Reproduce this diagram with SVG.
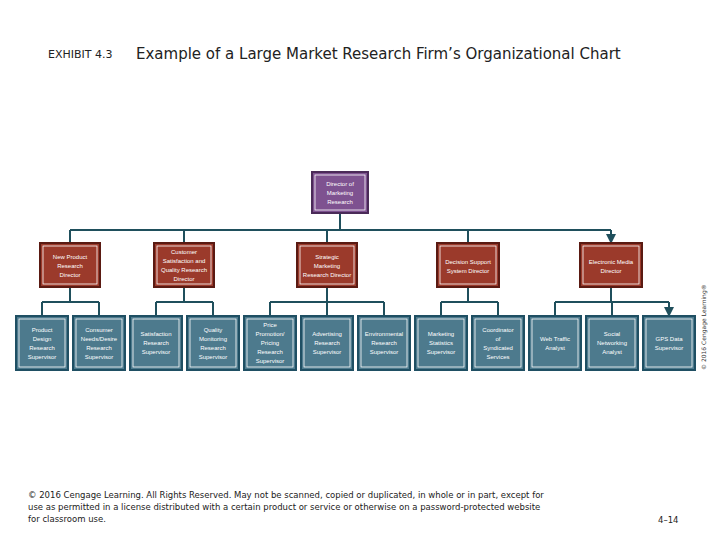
<svg xmlns="http://www.w3.org/2000/svg" width="720" height="540" viewBox="0 0 720 540">
<style>
text{font-family:"DejaVu Sans","Liberation Sans",sans-serif}
.t{fill:#fff;font-size:6px;text-anchor:middle;font-family:"Liberation Sans",sans-serif}
.p{fill:#7e5290;stroke:#4a2a58;stroke-width:2}
.r{fill:#9b3a2b;stroke:#5a1a12;stroke-width:2}
.b{fill:#4d7a8d;stroke:#1f4f63;stroke-width:2}
.in{fill:none;stroke:#fff;stroke-width:0.8}
.c path{fill:none;stroke:#1f4f5c;stroke-width:2}
</style>
<defs><marker id="a" viewBox="0 0 10 10" refX="5" refY="10" markerWidth="4" markerHeight="4" orient="auto-start-reverse" markerUnits="strokeWidth"><path d="M0,0 L10,0 L5,10 z" fill="#1f4f5c" transform="rotate(-90 5 5)"/></marker>
<marker id="m" viewBox="0 0 10 10" refX="5" refY="9" markerWidth="5" markerHeight="5" orient="0"><path d="M0,0 L10,0 L5,10 z" fill="#1f4f5c"/></marker></defs>
<rect width="720" height="540" fill="#fff"/>
<text x="48" y="58" font-size="11" fill="#222">EXHIBIT 4.3</text>
<text x="136" y="59" font-size="15" fill="#222">Example of a Large Market Research Firm’s Organizational Chart</text>
<g class="c">
<path d="M340,213 V230 M70,230 H611"/>
<path d="M70,230 V243 M184,230 V243 M327,230 V243 M468,230 V243 M611,230 V243" marker-end="url(#m)"/>
<path d="M70,287 V302 M42,302 H99 M184,287 V302 M156,302 H213 M327,287 V302 M270,302 H384 M468,287 V302 M441,302 H498 M611,287 V302 M555,302 H669"/>
<path d="M42,302 V316 M99,302 V316 M156,302 V316 M213,302 V316 M270,302 V316 M327,302 V316 M384,302 V316 M441,302 V316 M498,302 V316 M555,302 V316 M612,302 V316 M669,302 V316" marker-end="url(#m)"/>
</g>
<g id="top"><rect class="p" x="312" y="172" width="56" height="41"/><rect class="in" x="315" y="175" width="50" height="35"/><text class="t" x="340" y="186">Director of</text><text class="t" x="340" y="195">Marketing</text><text class="t" x="340" y="204">Research</text></g>
<g id="d1"><rect class="r" x="40" y="243" width="60" height="44"/><rect class="in" x="43" y="246" width="54" height="38"/><text class="t" x="70" y="259">New Product</text><text class="t" x="70" y="268">Research</text><text class="t" x="70" y="277">Director</text></g>
<g id="d2"><rect class="r" x="154" y="243" width="60" height="44"/><rect class="in" x="157" y="246" width="54" height="38"/><text class="t" x="184" y="254">Customer</text><text class="t" x="184" y="263">Satisfaction and</text><text class="t" x="184" y="272">Quality Research</text><text class="t" x="184" y="281">Director</text></g>
<g id="d3"><rect class="r" x="297" y="243" width="60" height="44"/><rect class="in" x="300" y="246" width="54" height="38"/><text class="t" x="327" y="259">Strategic</text><text class="t" x="327" y="268">Marketing</text><text class="t" x="327" y="277">Research Director</text></g>
<g id="d4"><rect class="r" x="437" y="243" width="62" height="44"/><rect class="in" x="440" y="246" width="56" height="38"/><text class="t" x="468" y="264">Decision Support</text><text class="t" x="468" y="273">System Director</text></g>
<g id="d5"><rect class="r" x="580" y="243" width="62" height="44"/><rect class="in" x="583" y="246" width="56" height="38"/><text class="t" x="611" y="264">Electronic Media</text><text class="t" x="611" y="273">Director</text></g>
<g id="s1"><rect class="b" x="16" y="316" width="52" height="54"/><rect class="in" x="19" y="319" width="46" height="48"/><text class="t" x="42" y="332">Product</text><text class="t" x="42" y="341">Design</text><text class="t" x="42" y="350">Research</text><text class="t" x="42" y="359">Supervisor</text></g>
<g id="s2"><rect class="b" x="73" y="316" width="52" height="54"/><rect class="in" x="76" y="319" width="46" height="48"/><text class="t" x="99" y="332">Consumer</text><text class="t" x="99" y="341">Needs/Desire</text><text class="t" x="99" y="350">Research</text><text class="t" x="99" y="359">Supervisor</text></g>
<g id="s3"><rect class="b" x="130" y="316" width="52" height="54"/><rect class="in" x="133" y="319" width="46" height="48"/><text class="t" x="156" y="336">Satisfaction</text><text class="t" x="156" y="345">Research</text><text class="t" x="156" y="354">Supervisor</text></g>
<g id="s4"><rect class="b" x="187" y="316" width="52" height="54"/><rect class="in" x="190" y="319" width="46" height="48"/><text class="t" x="213" y="332">Quality</text><text class="t" x="213" y="341">Monitoring</text><text class="t" x="213" y="350">Research</text><text class="t" x="213" y="359">Supervisor</text></g>
<g id="s5"><rect class="b" x="244" y="316" width="52" height="54"/><rect class="in" x="247" y="319" width="46" height="48"/><text class="t" x="270" y="327">Price</text><text class="t" x="270" y="336">Promotion/</text><text class="t" x="270" y="345">Pricing</text><text class="t" x="270" y="354">Research</text><text class="t" x="270" y="363">Supervisor</text></g>
<g id="s6"><rect class="b" x="301" y="316" width="52" height="54"/><rect class="in" x="304" y="319" width="46" height="48"/><text class="t" x="327" y="336">Advertising</text><text class="t" x="327" y="345">Research</text><text class="t" x="327" y="354">Supervisor</text></g>
<g id="s7"><rect class="b" x="358" y="316" width="52" height="54"/><rect class="in" x="361" y="319" width="46" height="48"/><text class="t" x="384" y="336">Environmental</text><text class="t" x="384" y="345">Research</text><text class="t" x="384" y="354">Supervisor</text></g>
<g id="s8"><rect class="b" x="415" y="316" width="52" height="54"/><rect class="in" x="418" y="319" width="46" height="48"/><text class="t" x="441" y="336">Marketing</text><text class="t" x="441" y="345">Statistics</text><text class="t" x="441" y="354">Supervisor</text></g>
<g id="s9"><rect class="b" x="472" y="316" width="52" height="54"/><rect class="in" x="475" y="319" width="46" height="48"/><text class="t" x="498" y="332">Coordinator</text><text class="t" x="498" y="341">of</text><text class="t" x="498" y="350">Syndicated</text><text class="t" x="498" y="359">Services</text></g>
<g id="s10"><rect class="b" x="529" y="316" width="52" height="54"/><rect class="in" x="532" y="319" width="46" height="48"/><text class="t" x="555" y="341">Web Traffic</text><text class="t" x="555" y="350">Analyst</text></g>
<g id="s11"><rect class="b" x="586" y="316" width="52" height="54"/><rect class="in" x="589" y="319" width="46" height="48"/><text class="t" x="612" y="336">Social</text><text class="t" x="612" y="345">Networking</text><text class="t" x="612" y="354">Analyst</text></g>
<g id="s12"><rect class="b" x="643" y="316" width="52" height="54"/><rect class="in" x="646" y="319" width="46" height="48"/><text class="t" x="669" y="341">GPS Data</text><text class="t" x="669" y="350">Supervisor</text></g>
<text transform="translate(706,370) rotate(-90)" font-size="6" fill="#333" font-family="Liberation Sans,sans-serif">© 2016 Cengage Learning®</text>
<text font-size="8.5" fill="#222"><tspan x="28" y="498">© 2016 Cengage Learning. All Rights Reserved. May not be scanned, copied or duplicated, in whole or in part, except for</tspan><tspan x="28" y="510">use as permitted in a license distributed with a certain product or service or otherwise on a password-protected website</tspan><tspan x="28" y="522">for classroom use.</tspan></text>
<text x="658" y="523" font-size="8.5" fill="#222">4–14</text>
</svg>
